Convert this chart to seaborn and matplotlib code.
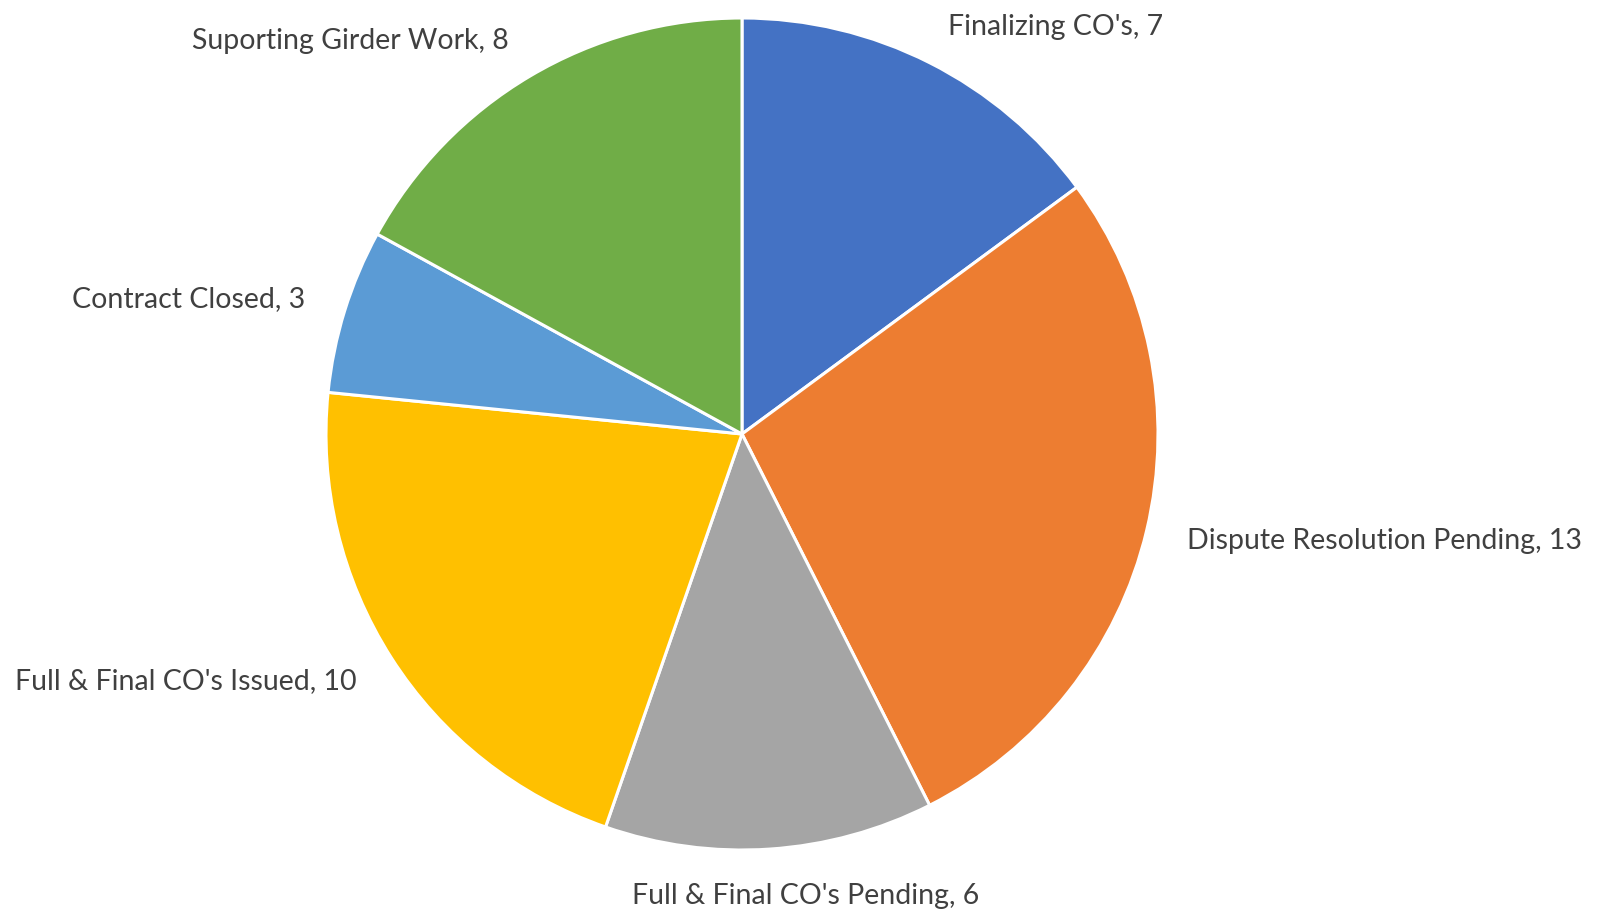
import matplotlib
matplotlib.use("Agg")
import matplotlib.pyplot as plt
import seaborn as sns
import numpy as np

categories = ["Finalizing CO's", "Dispute Resolution Pending", "Full & Final CO's Pending",
              "Full & Final CO's Issued", "Contract Closed", "Suporting Girder Work"]
values = [7, 13, 6, 10, 3, 8]
colors = ["#4472C4", "#ED7D31", "#A5A5A5", "#FFC000", "#5B9BD5", "#70AD47"]

sns.set_theme(style="white")
plt.rcParams['font.family'] = ['Lato', 'DejaVu Sans']

W, H = 1604, 912
fig = plt.figure(figsize=(W / 100, H / 100), dpi=100)
ax = fig.add_axes([0, 0, 1, 1])

labels = [f"{c}, {v}" for c, v in zip(categories, values)]
wedges, texts = ax.pie(values, labels=labels, colors=sns.color_palette(colors),
                       startangle=90, counterclock=False, labeldistance=1.1,
                       wedgeprops=dict(edgecolor="white", linewidth=2.2),
                       textprops=dict(fontsize=20.5, color="#404040"))
for t in texts:
    x, y = t.get_position()
    if abs(x) < 0.2:
        t.set_ha("center")
        t.set_position((x + 0.08, y - 0.01))

cx, cy, R = 742, 435, 416
ax.set_xlim(-cx / R, (W - cx) / R)
ax.set_ylim(-(H - cy) / R, cy / R)
ax.set_aspect("auto")
ax.axis("off")

fig.savefig("out.png", dpi=100, facecolor="white")
